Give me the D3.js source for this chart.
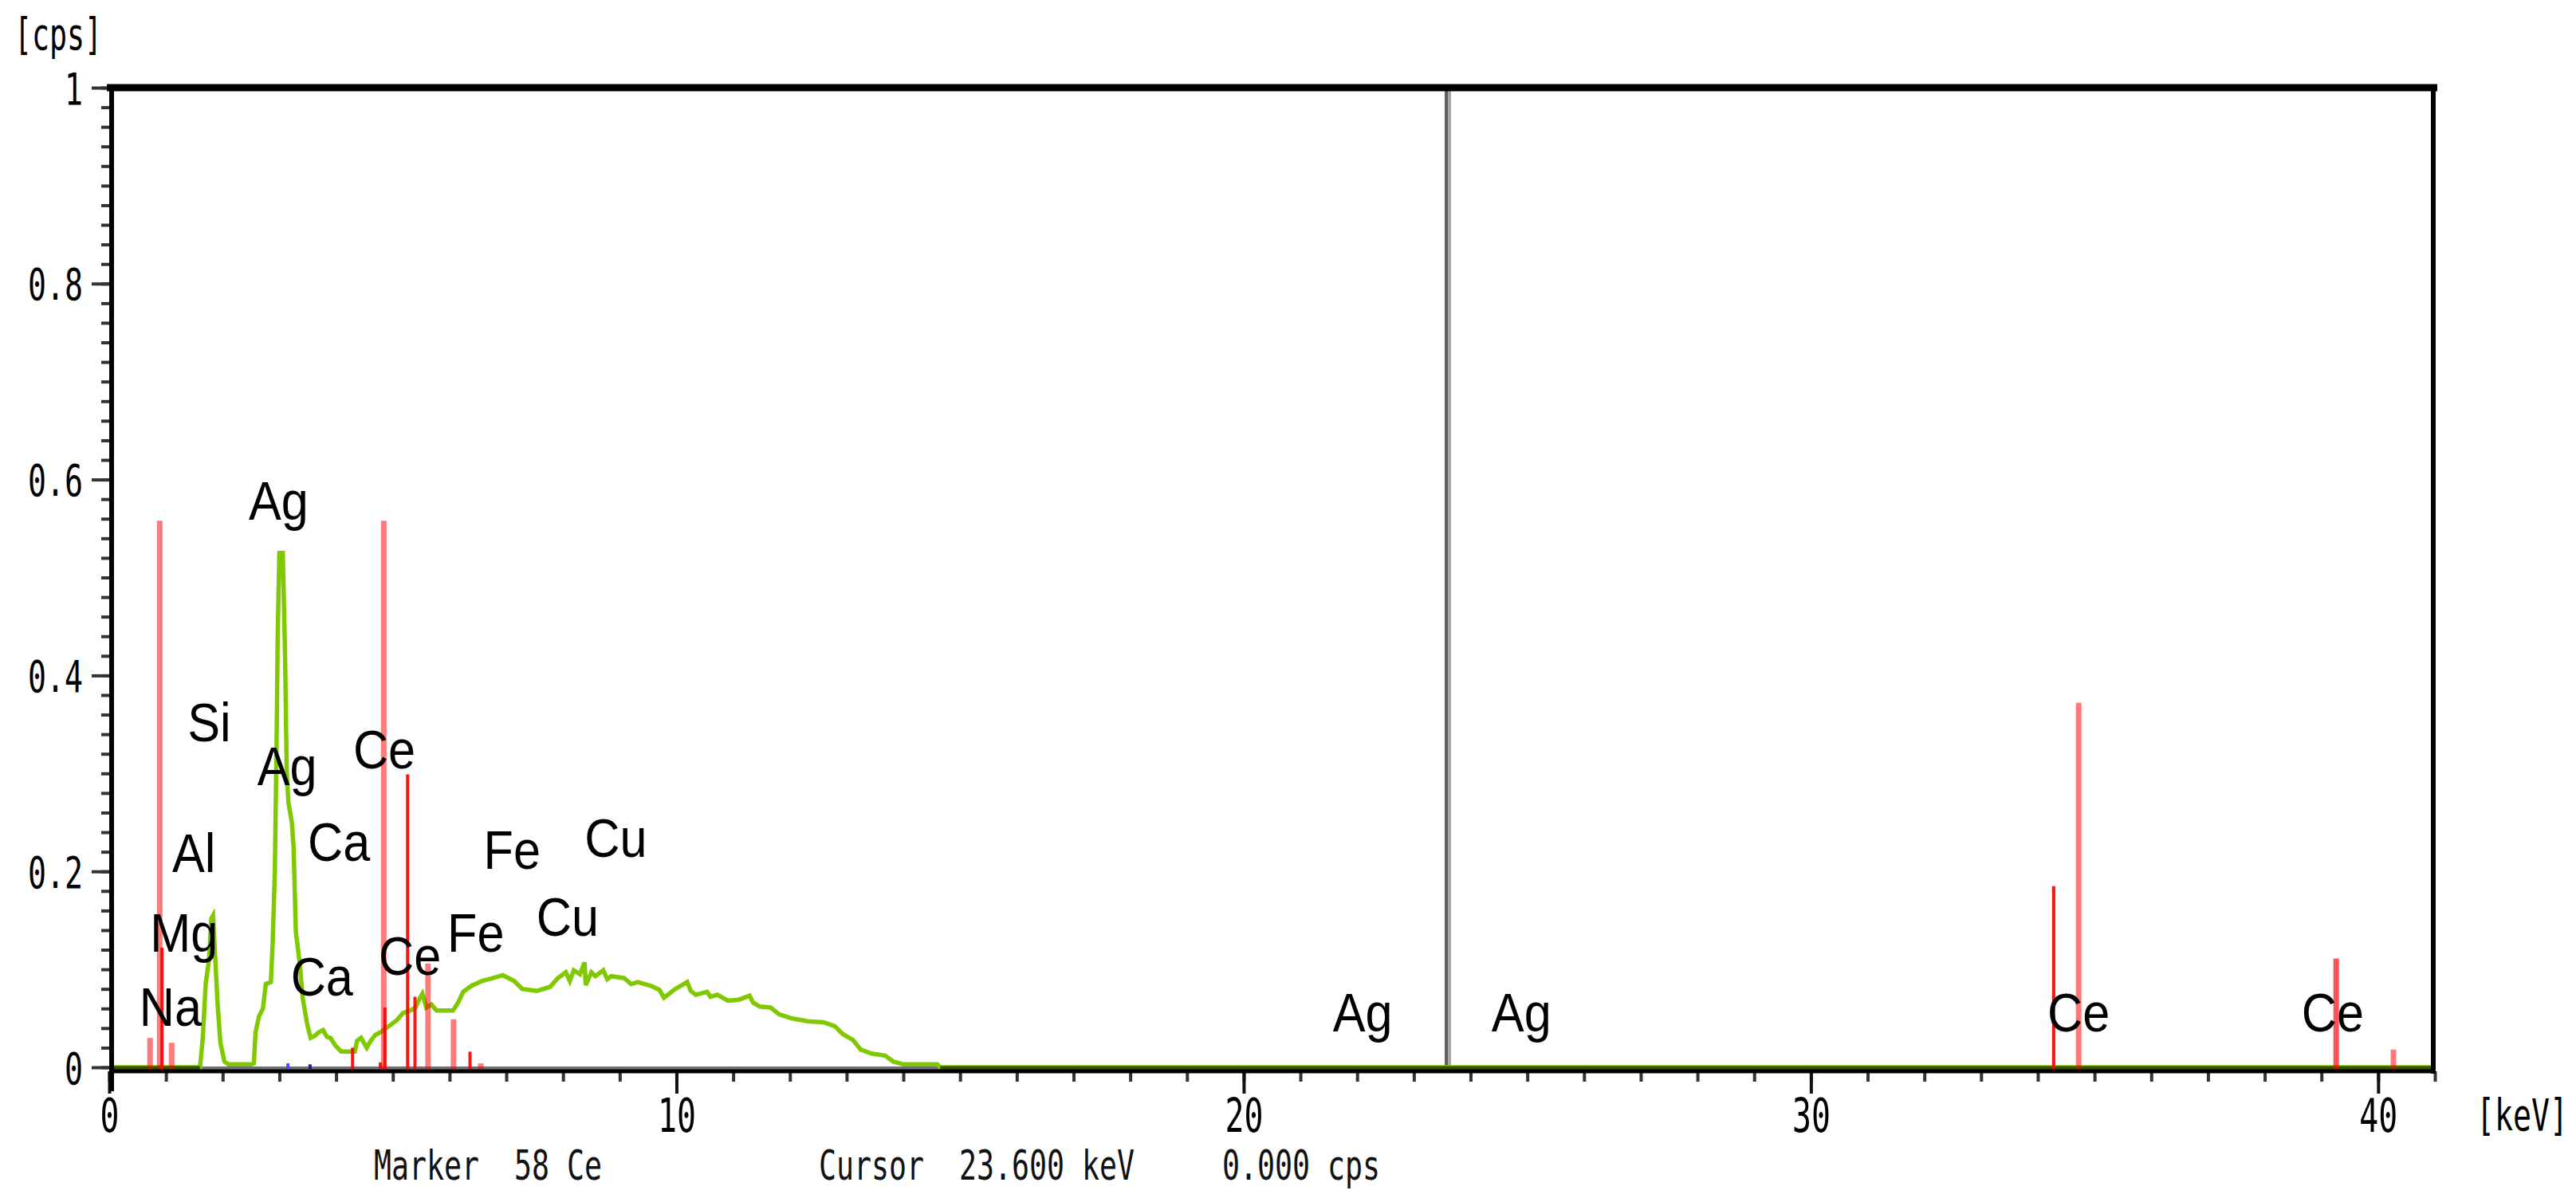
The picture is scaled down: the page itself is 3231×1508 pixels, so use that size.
<!DOCTYPE html>
<html>
<head>
<meta charset="utf-8">
<script src="https://cdn.jsdelivr.net/npm/d3@7/dist/d3.min.js"></script>
<style>
  html, body { margin: 0; padding: 0; background: #fff; }
  svg { display: block; }
  text.pre { white-space: pre; }
</style>
</head>
<body>
<svg id="chart" width="3231" height="1508"></svg>
<script>
// ---------------- DATA ----------------
// Measured spectrum (keV, cps)
const spectrumKeV = [0.00,1.60,1.65,1.70,1.76,1.80,1.83,1.87,1.91,1.96,2.03,2.10,2.50,2.55,2.58,2.64,2.71,2.76,2.85,2.88,2.92,2.95,2.97,3.00,3.06,3.10,3.13,3.16,3.22,3.25,3.29,3.36,3.41,3.49,3.55,3.62,3.70,3.77,3.84,3.90,3.99,4.09,4.33,4.37,4.44,4.54,4.61,4.69,4.79,4.93,5.07,5.17,5.31,5.40,5.47,5.52,5.59,5.68,5.77,5.92,6.06,6.15,6.24,6.38,6.57,6.76,6.94,7.14,7.28,7.54,7.77,7.91,8.05,8.12,8.19,8.30,8.38,8.40,8.50,8.57,8.71,8.78,8.85,9.08,9.20,9.32,9.56,9.70,9.78,9.98,10.19,10.25,10.34,10.54,10.60,10.72,10.91,11.10,11.29,11.35,11.47,11.66,11.81,12.03,12.31,12.59,12.79,12.93,13.11,13.25,13.44,13.68,13.82,14.00,14.60,14.65,41.00];
const spectrumCps = [0,0,0.030,0.085,0.110,0.152,0.155,0.110,0.065,0.025,0.006,0.003,0.003,0.004,0.036,0.052,0.060,0.085,0.087,0.125,0.200,0.330,0.440,0.525,0.525,0.420,0.300,0.270,0.250,0.225,0.138,0.106,0.071,0.044,0.030,0.032,0.036,0.038,0.031,0.030,0.022,0.016,0.016,0.027,0.030,0.020,0.027,0.033,0.036,0.042,0.048,0.055,0.058,0.061,0.070,0.075,0.061,0.064,0.058,0.058,0.058,0.066,0.077,0.083,0.088,0.091,0.094,0.088,0.080,0.078,0.082,0.091,0.097,0.088,0.099,0.095,0.107,0.084,0.097,0.093,0.099,0.090,0.093,0.091,0.085,0.087,0.083,0.079,0.071,0.080,0.087,0.078,0.074,0.077,0.072,0.074,0.068,0.069,0.073,0.066,0.062,0.061,0.054,0.050,0.047,0.046,0.042,0.034,0.028,0.018,0.014,0.012,0.006,0.003,0.003,0,0];

// KLM marker lines (Ce) : energy, height, kind
const markerKeV  = [0.72,0.89,1.10,4.84,5.62,6.07,6.55,34.72,39.26,40.27, 0.93,4.29,4.78,4.86,5.26,5.39,6.36,34.28];
const markerCps  = [0.030,0.558,0.025,0.558,0.106,0.049,0.004,0.372,0.111,0.018, 0.122,0.020,0.005,0.061,0.299,0.072,0.016,0.185];
const markerKind = ["light","light","light","light","light","light","light","light","mid","light", "strong","strong","strong","strong","strong","strong","strong","strong"];

// small blue markers
const blueKeV = [3.15,3.54];
const blueCps = [0.004,0.003];
const blueColor = ["#4a4aff","#20208a"];

// element labels (left x in keV, baseline in cps)
const labelText = ["Na","Mg","Al","Si","Ag","Ag","Ca","Ca","Ce","Ce","Fe","Fe","Cu","Cu","Ag","Ag","Ce","Ce"];
const labelKeV  = [0.53,0.72,1.11,1.38,2.46,2.61,3.50,3.20,4.30,4.75,5.96,6.60,7.53,8.38,21.57,24.37,34.17,38.65];
const labelCps  = [0.042,0.118,0.199,0.333,0.559,0.288,0.211,0.073,0.305,0.094,0.118,0.203,0.134,0.215,0.037,0.037,0.037,0.037];

const xMinorTicks = d3.range(0, 42, 1);
const xMajorTicks = [0, 10, 20, 30, 40];
const yMinorTicks = d3.range(0, 51).map(i => i * 0.02);
const yMajorTicks = [0, 0.2, 0.4, 0.6, 0.8, 1];

const cursorKeV = 23.6;
const yUnit = "[cps]";
const xUnit = "[keV]";
const statusMarker = "Marker  58 Ce";
const statusCursor = "Cursor  23.600 keV     0.000 cps";

// ---------------- CHART ----------------
const svg = d3.select("#chart");
svg.append("rect").attr("width", 3231).attr("height", 1508).attr("fill", "#fff");

const x = d3.scaleLinear().domain([0, 41]).range([137, 3054]);
const y = d3.scaleLinear().domain([0, 1]).range([1339, 110]);

const monoFont = "'DejaVu Sans Mono', 'Liberation Mono', monospace";
const ADV = 0.602; // DejaVu Sans Mono advance per em
const sx = (size, adv) => adv / (size * ADV); // horizontal condensation

// cursor line
svg.append("line")
  .attr("x1", x(cursorKeV) - 2).attr("x2", x(cursorKeV) - 2)
  .attr("y1", y(1)).attr("y2", y(0) + 3)
  .attr("stroke", "#5e5e5e").attr("stroke-width", 4);
svg.append("line")
  .attr("x1", x(cursorKeV) + 2).attr("x2", x(cursorKeV) + 2)
  .attr("y1", y(1)).attr("y2", y(0) + 3)
  .attr("stroke", "#a6a6a6").attr("stroke-width", 4);

// zero baseline (gray)
svg.append("line")
  .attr("x1", x(0)).attr("x2", x(41))
  .attr("y1", y(0) + 1).attr("y2", y(0) + 1)
  .attr("stroke", "#707070").attr("stroke-width", 4);

const spec = spectrumKeV.map((k, i) => ({ k, v: spectrumCps[i] }));

// spectrum
svg.append("path")
  .datum(spec)
  .attr("fill", "none")
  .attr("stroke", "#80c800")
  .attr("stroke-width", 5.5)
  .attr("stroke-linejoin", "miter")
  .attr("d", d3.line().x(d => x(d.k)).y(d => y(d.v)));

// zero parts of spectrum appear dark olive over the baseline
const zeroLine = d3.line().defined(d => d.v === 0).x(d => x(d.k)).y(d => y(d.v) + 1);
svg.append("path")
  .datum(spec)
  .attr("fill", "none")
  .attr("stroke", "#355200")
  .attr("stroke-width", 5)
  .attr("d", zeroLine);

// marker lines
const markers = markerKeV.map((k, i) => ({ k, v: markerCps[i], kind: markerKind[i] }));
const order = { light: 0, mid: 1, strong: 2 };
markers.sort((a, b) => order[a.kind] - order[b.kind]);
svg.append("g").selectAll("line").data(markers).join("line")
  .attr("x1", d => x(d.k)).attr("x2", d => x(d.k))
  .attr("y1", y(0) + 2).attr("y2", d => y(d.v))
  .attr("stroke", "#ff0000")
  .attr("stroke-opacity", d => d.kind === "light" ? 0.52 : d.kind === "mid" ? 0.68 : 0.92)
  .attr("stroke-width", d => d.kind === "strong" ? 4 : 7);

const blues = blueKeV.map((k, i) => ({ k, v: blueCps[i], c: blueColor[i] }));
svg.append("g").selectAll("line").data(blues).join("line")
  .attr("x1", d => x(d.k)).attr("x2", d => x(d.k))
  .attr("y1", y(0) + 2).attr("y2", d => y(d.v))
  .attr("stroke", d => d.c).attr("stroke-width", 4);

// x axis ticks
const gx = svg.append("g").attr("transform", `translate(0,${y(0) + 5})`);
gx.append("g").call(d3.axisBottom(x).tickValues(xMinorTicks).tickSize(13).tickFormat(""))
  .call(g => g.select(".domain").remove())
  .call(g => g.selectAll(".tick line").attr("stroke", "#333").attr("stroke-width", 4));
gx.append("g").call(d3.axisBottom(x).tickValues(xMajorTicks).tickSize(28).tickFormat(d3.format("d")))
  .call(g => g.select(".domain").remove())
  .call(g => g.selectAll(".tick line").attr("stroke", "#111").attr("stroke-width", 4))
  .call(g => g.selectAll(".tick text")
    .attr("y", 0).attr("dy", null)
    .attr("transform", `translate(0,76) scale(${sx(58, 24)},1)`)
    .attr("font-family", monoFont).attr("font-size", 58).attr("fill", "#000")
    .attr("text-anchor", "middle"));

// y axis ticks
const gy = svg.append("g").attr("transform", `translate(${x(0) + 3},0)`);
gy.append("g").call(d3.axisLeft(y).tickValues(yMinorTicks).tickSize(13).tickFormat(""))
  .call(g => g.select(".domain").remove())
  .call(g => g.selectAll(".tick line").attr("stroke", "#333").attr("stroke-width", 4));
gy.append("g").call(d3.axisLeft(y).tickValues(yMajorTicks).tickSize(25).tickPadding(11).tickFormat(d3.format("~g")))
  .call(g => g.select(".domain").remove())
  .call(g => g.selectAll(".tick line").attr("stroke", "#333").attr("stroke-width", 4))
  .call(g => g.selectAll(".tick text")
    .attr("x", 0)
    .attr("transform", `translate(-36,0) scale(${sx(56, 23)},1)`)
    .attr("dy", "0.36em")
    .attr("font-family", monoFont).attr("font-size", 56).attr("fill", "#000"));

// frame
const fr = svg.append("g").attr("stroke", "#000").attr("fill", "none");
fr.append("line").attr("x1", x(0) - 3).attr("x2", x(41) + 3).attr("y1", y(1)).attr("y2", y(1)).attr("stroke-width", 9);
fr.append("line").attr("x1", x(0) + 3).attr("x2", x(0) + 3).attr("y1", y(1)).attr("y2", y(0) + 30).attr("stroke-width", 6);
fr.append("line").attr("x1", x(41) - 2).attr("x2", x(41) - 2).attr("y1", y(1)).attr("y2", y(0) + 8).attr("stroke-width", 6);
fr.append("line").attr("x1", x(0)).attr("x2", x(41) + 1).attr("y1", y(0) + 5).attr("y2", y(0) + 5).attr("stroke-width", 5);

// element labels
const labels = labelText.map((t, i) => ({ t, k: labelKeV[i], v: labelCps[i] }));
svg.append("g").selectAll("text").data(labels).join("text")
  .attr("transform", d => `translate(${x(d.k)},${y(d.v)}) scale(0.9,1)`)
  .attr("font-family", "'Liberation Sans', Arial, sans-serif")
  .attr("font-size", 68)
  .attr("fill", "#000")
  .text(d => d.t);

// units
svg.append("text")
  .attr("transform", `translate(18,62) scale(${sx(56, 22)},1)`)
  .attr("font-family", monoFont).attr("font-size", 56)
  .text(yUnit);
svg.append("text")
  .attr("transform", `translate(3106,1418) scale(${sx(56, 23)},1)`)
  .attr("font-family", monoFont).attr("font-size", 56)
  .text(xUnit);

// status line
function status(str, x0) {
  svg.append("text").attr("class", "pre")
    .attr("transform", `translate(${x0},1480) scale(${sx(52, 22)},1)`)
    .attr("font-family", monoFont).attr("font-size", 52).attr("fill", "#111")
    .text(str);
}
status(statusMarker, 469);
status(statusCursor, 1027);
</script>
</body>
</html>
